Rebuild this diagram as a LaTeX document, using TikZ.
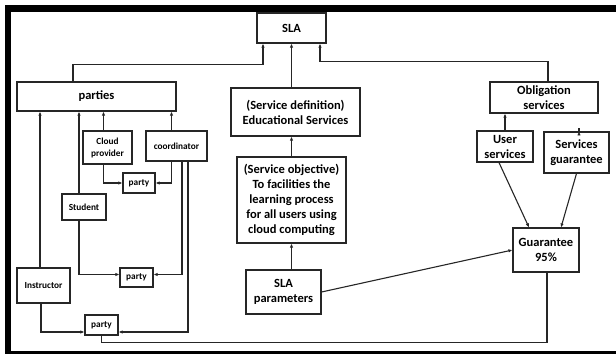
\documentclass[tikz,border=0pt]{standalone}
\usepackage{fontspec}
\setmainfont{Carlito}
\usetikzlibrary{arrows.meta,calc}
\begin{document}
\begin{tikzpicture}[x=1pt,y=-1pt,
  box/.style={draw=black!85,line width=1.1pt,fill=white,inner sep=0pt,align=center,
    font=\fontsize{12.5}{15}\selectfont\bfseries},
  small/.style={box,font=\fontsize{9.3}{12}\selectfont\bfseries},
  link/.style={draw=black!85,line width=1.1pt},
  arr/.style={link,-{Latex[length=4pt,width=3.4pt]}}]
\useasboundingbox (0,0) rectangle (616,354);
% outer frame
\fill[black] (5,5) rectangle (616,12);
\fill[black] (5,5) rectangle (11,354);
\fill[black] (5,351) rectangle (616,353.5);

% boxes
\node[box,minimum width=69,minimum height=30] (sla) at (291.5,28) {SLA};
\node[box,minimum width=159,minimum height=29] (parties) at (96.5,96.5) {parties};
\node[small,minimum width=49,minimum height=33] (cloud) at (107.5,147.5) {Cloud\\provider};
\node[small,minimum width=61,minimum height=30] (coord) at (176.5,146) {coordinator};
\node[small,minimum width=32,minimum height=20] (party1) at (139,183) {party};
\node[small,minimum width=44,minimum height=26] (student) at (84,207) {Student};
\node[small,minimum width=33,minimum height=19] (party2) at (136.5,277.5) {party};
\node[small,minimum width=53,minimum height=35] (instr) at (43.5,285.5) {Instructor};
\node[small,minimum width=33,minimum height=20] (party3) at (101.5,325) {party};
\node[box,minimum width=129,minimum height=48] (servdef) at (295.5,112) {(Service definition)\\Educational Services};
\node[box,minimum width=109,minimum height=86] (servobj) at (291.5,200) {(Service objective)\\To facilities the\\learning process\\for all users using\\cloud computing};
\node[box,minimum width=75,minimum height=44] (params) at (283.5,292) {SLA\\parameters};
\node[box,minimum width=108,minimum height=31] (oblig) at (544,97.5) {Obligation\\services};
\node[box,minimum width=56,minimum height=31] (user) at (505,146.5) {User\\services};
\node[box,minimum width=65,minimum height=41] (sguar) at (576.5,152.5) {Services\\guarantee};
\node[box,minimum width=66,minimum height=44] (guar) at (546,250) {Guarantee\\95\%};

% x positions of the vertical runs
\coordinate (xi) at (40,0);
\coordinate (xs) at (79,0);
\coordinate (xc) at (103.5,0);
\coordinate (xk) at (171.5,0);
\coordinate (xk1) at (182,0);
\coordinate (xk2) at (188,0);
\coordinate (xo) at (41,0);

% into SLA
\draw[arr] ($(parties.north)+(-23.5,0)$) |- ($(sla.south)+(-28.5,21)$) -- ($(sla.south)+(-28.5,0)$);
\draw[arr] (servdef.north -| sla.south) -- (sla.south);
\draw[arr] ($(oblig.north)+(4,0)$) |- ($(sla.south)+(28.5,18)$) -- ($(sla.south)+(28.5,0)$);

% centre column
\draw[arr] (servobj.north) -- (servobj.north |- servdef.south);
\draw[arr] (params.north -| servobj.south) -- (servobj.south);
\draw[arr] (params.east) -- (guar.west);

% right column
\draw[arr] (user.north) -- (user.north |- oblig.south);
\draw[arr] ($(sguar.north)+(2.5,0)$) -- ($(sguar.north)+(2.5,0)$ |- oblig.south);
\draw[arr] ($(user.south)+(-6,0)$) -- ($(guar.north)+(-17,0)$);
\draw[arr] (sguar.south) -- ($(guar.north)+(15,0)$);

% parties
\draw[arr] (instr.north -| xi) -- (parties.south -| xi);
\draw[arr] (student.north -| xs) -- (parties.south -| xs);
\draw[arr] (cloud.north -| xc) -- (parties.south -| xc);
\draw[arr] (coord.north -| xk) -- (parties.south -| xk);

% party links
\draw[arr] (cloud.south -| xc) |- (party1.west);
\draw[arr] (coord.south -| xk) |- (party1.east);
\draw[arr] (coord.south -| xk1) |- ($(party2.east)+(0,-3)$);
\draw[arr] (coord.south -| xk2) |- ($(party3.east)+(0,7)$);
\draw[arr] (student.south -| xs) |- ($(party2.west)+(0,-3)$);
\draw[arr] (instr.south -| xo) |- ($(party3.west)+(0,7)$);

% party to guarantee
\draw[link] (party3.south) |- ($(guar.south)+(1,70)$) -- ($(guar.south)+(1,0)$);
\end{tikzpicture}
\end{document}
